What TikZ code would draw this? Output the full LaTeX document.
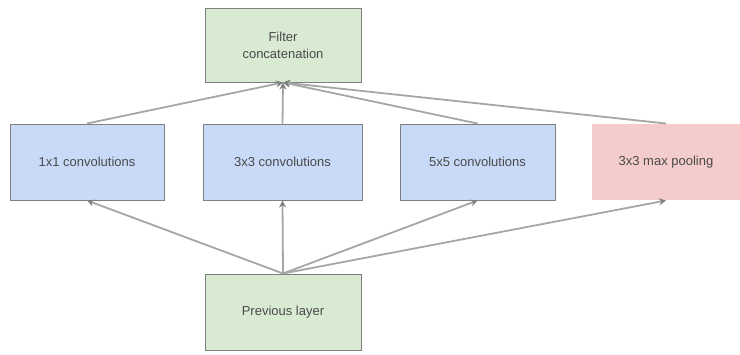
\documentclass[tikz,border=0pt]{standalone}
\usepackage{fontspec}
\setmainfont{Liberation Sans}
\usetikzlibrary{arrows.meta}
\definecolor{greenfill}{HTML}{D9EAD3}
\definecolor{bluefill}{HTML}{C9DAF8}
\definecolor{redfill}{HTML}{F4CCCC}
\definecolor{edgegray}{HTML}{7F7F7F}
\definecolor{linegray}{HTML}{A6A6A6}
\definecolor{txt}{HTML}{4A4A4A}
\begin{document}
\begin{tikzpicture}[x=1pt,y=-1pt,
  box/.style={draw=edgegray,line width=1pt,minimum width=#1,minimum height=76pt,inner sep=0pt,
    align=center,text=txt,font=\fontsize{13}{17}\selectfont},
  conn/.style={draw=linegray,line width=1.8pt,-{Stealth[length=7pt,width=7pt,color=gray]}}]
\useasboundingbox (0,0) rectangle (740,354);
\node[box=156pt,fill=greenfill,minimum height=74pt] (concat) at (283,45) {Filter\\concatenation};
\node[box=154pt,fill=bluefill] (c1) at (87,162) {1x1 convolutions};
\node[box=159pt,fill=bluefill] (c3) at (282.5,162) {3x3 convolutions};
\node[box=155pt,fill=bluefill] (c5) at (477.5,162) {5x5 convolutions};
\node[box=148pt,fill=redfill,draw=none] (mp) at (666,162) {3x3 max pooling};
\node[box=156pt,fill=greenfill] (prev) at (283,312) {Previous layer};
\coordinate (pt) at (284,274);
\coordinate (ct) at (284,82);
\draw[conn] (prev.north) -- (c1.south);
\draw[conn] (prev.north) -- (c3.south);
\draw[conn] (prev.north) -- (c5.south);
\draw[conn] (prev.north) -- (mp.south);
\draw[conn] (c1.north) -- (concat.south);
\draw[conn] (c3.north) -- (concat.south);
\draw[conn] (c5.north) -- (concat.south);
\draw[conn] (mp.north) -- (concat.south);
\end{tikzpicture}
\end{document}
